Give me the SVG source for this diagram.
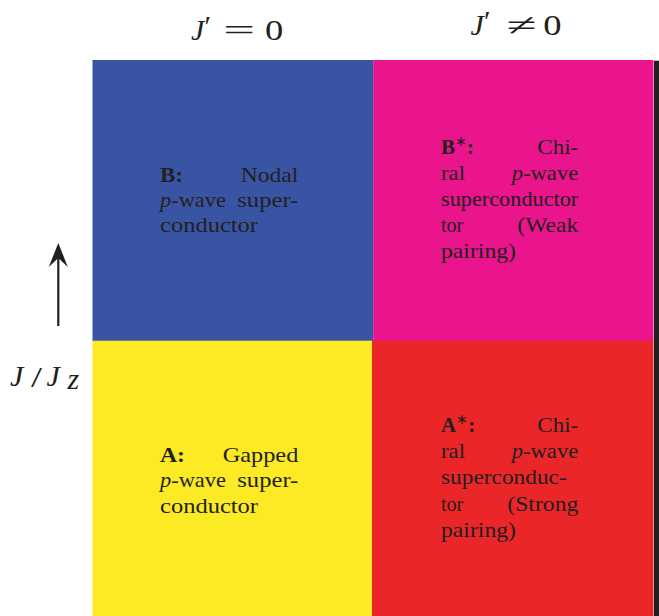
<svg xmlns="http://www.w3.org/2000/svg" width="659" height="616" viewBox="0 0 659 616">
<style>
.t{font-family:"Liberation Serif","Times New Roman",serif;font-size:21px;fill:#231f20}
.b{font-weight:bold}
.i{font-style:italic}
.m{font-family:"Liberation Serif","Times New Roman",serif;font-size:30px;fill:#231f20}
</style>
<defs>
<marker id="ah" markerWidth="26" markerHeight="20" refX="16" refY="10" orient="auto" markerUnits="userSpaceOnUse" viewBox="0 0 26 20">
<path d="M25 10 L1 0.5 L10 10 L1 19.5 Z" fill="#231f20"/>
</marker>
</defs>
<rect width="659" height="616" fill="#fff"/>
<g id="quad-B">
<rect x="92.5" y="60" width="281" height="281" fill="#3a54a4"/>
<text class="t b" x="160" y="182" textLength="23" lengthAdjust="spacingAndGlyphs">B:</text>
<text class="t" x="240.7" y="182" textLength="57.6" lengthAdjust="spacingAndGlyphs">Nodal</text>
<text class="t" x="160" y="207" textLength="66" lengthAdjust="spacingAndGlyphs"><tspan class="i">p</tspan>-wave</text>
<text class="t" x="237.3" y="207" textLength="61" lengthAdjust="spacingAndGlyphs">super-</text>
<text class="t" x="160" y="232" textLength="98" lengthAdjust="spacingAndGlyphs">conductor</text>
</g>
<g id="quad-Bstar">
<rect x="373.3" y="60" width="280.2" height="281" fill="#ea148c"/>
<text class="t b" x="441" y="154">B<tspan font-size="14" dy="-8" font-weight="normal">∗</tspan><tspan dy="8">:</tspan></text>
<text class="t" x="537.3" y="154" textLength="41" lengthAdjust="spacingAndGlyphs">Chi-</text>
<text class="t" x="441" y="180" textLength="24" lengthAdjust="spacingAndGlyphs">ral</text>
<text class="t" x="511.7" y="180" textLength="66.6" lengthAdjust="spacingAndGlyphs"><tspan class="i">p</tspan>-wave</text>
<text class="t" x="441" y="206" textLength="137.3" lengthAdjust="spacingAndGlyphs">superconductor</text>
<text class="t" x="441" y="231.7" textLength="22.3" lengthAdjust="spacingAndGlyphs">tor</text>
<text class="t" x="517.3" y="231.7" textLength="61" lengthAdjust="spacingAndGlyphs">(Weak</text>
<text class="t" x="441" y="257.5" textLength="75" lengthAdjust="spacingAndGlyphs">pairing)</text>
</g>
<g id="quad-A">
<rect x="92.5" y="340.7" width="279.5" height="275.3" fill="#fbea24"/>
<text class="t b" x="160" y="462" textLength="25" lengthAdjust="spacingAndGlyphs">A:</text>
<text class="t" x="222.7" y="462" textLength="75.6" lengthAdjust="spacingAndGlyphs">Gapped</text>
<text class="t" x="160" y="487" textLength="66" lengthAdjust="spacingAndGlyphs"><tspan class="i">p</tspan>-wave</text>
<text class="t" x="237.3" y="487" textLength="61" lengthAdjust="spacingAndGlyphs">super-</text>
<text class="t" x="160" y="512.5" textLength="98" lengthAdjust="spacingAndGlyphs">conductor</text>
</g>
<g id="quad-Astar">
<rect x="372" y="340.7" width="281.5" height="275.3" fill="#eb2628"/>
<text class="t b" x="441" y="432.3">A<tspan font-size="14" dy="-8" font-weight="normal">∗</tspan><tspan dy="8">:</tspan></text>
<text class="t" x="537.3" y="432.3" textLength="41" lengthAdjust="spacingAndGlyphs">Chi-</text>
<text class="t" x="441" y="458.3" textLength="24" lengthAdjust="spacingAndGlyphs">ral</text>
<text class="t" x="511.7" y="458.3" textLength="66.6" lengthAdjust="spacingAndGlyphs"><tspan class="i">p</tspan>-wave</text>
<text class="t" x="441" y="484.3" textLength="125.7" lengthAdjust="spacingAndGlyphs">superconduc-</text>
<text class="t" x="441" y="510.5" textLength="22.3" lengthAdjust="spacingAndGlyphs">tor</text>
<text class="t" x="507.3" y="510.5" textLength="71" lengthAdjust="spacingAndGlyphs">(Strong</text>
<text class="t" x="441" y="536.5" textLength="75" lengthAdjust="spacingAndGlyphs">pairing)</text>
</g>
<rect id="edge-bar" x="654" y="60.7" width="5" height="555.3" fill="#231f20"/>
<g id="header-left">
<text class="m i" x="191" y="40" font-size="31">J</text>
<text class="m" x="204.5" y="36" font-size="26">′</text>
<text class="m" x="223.3" y="40" textLength="31.7" lengthAdjust="spacingAndGlyphs">=</text>
<text class="m" x="265" y="40" font-size="31" textLength="18.3" lengthAdjust="spacingAndGlyphs">0</text>
</g>
<g id="header-right">
<text class="m i" x="470.5" y="35" font-size="31">J</text>
<text class="m" x="484" y="31" font-size="26">′</text>
<text class="m" x="506.7" y="35" textLength="30" lengthAdjust="spacingAndGlyphs">≠</text>
<text class="m" x="543.3" y="35" font-size="31" textLength="18.3" lengthAdjust="spacingAndGlyphs">0</text>
</g>
<g id="axis-label">
<text class="m i" x="10" y="386" font-size="32">J</text>
<text class="m" x="31" y="387" font-size="30" textLength="11" lengthAdjust="spacingAndGlyphs">/</text>
<text class="m i" x="46.5" y="386" font-size="32">J</text>
<text class="m i" x="67.5" y="389" font-size="19">z</text>
</g>
<g id="connectors">
<line x1="58.3" y1="326" x2="58.3" y2="252" stroke="#231f20" stroke-width="2.2" marker-end="url(#ah)"/>
</g>
</svg>
